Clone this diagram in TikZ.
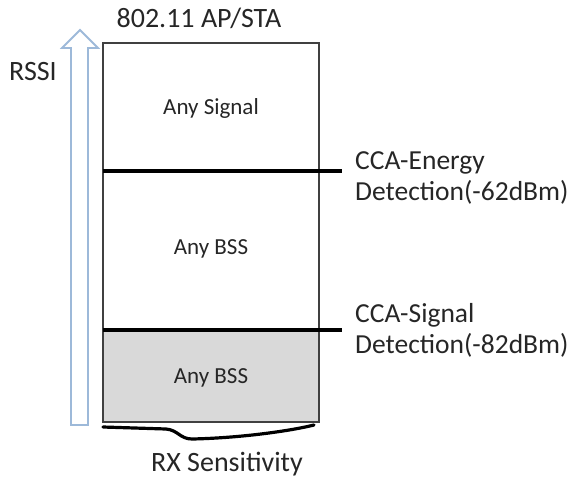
\documentclass[tikz,border=0pt]{standalone}
\usepackage{fontspec}
\setmainfont{Carlito}
\usepackage{tikz}
\usetikzlibrary{calc,positioning}
\definecolor{ink}{HTML}{262626}
\definecolor{frame}{HTML}{404040}
\definecolor{greyfill}{HTML}{D9D9D9}
\definecolor{arrowblue}{HTML}{9DB9D9}
\tikzset{
  base/.style={draw=frame, line width=1.6pt},
  level/.style={draw=black, line width=3.2pt},
  rssi/.style={draw=arrowblue, fill=white, line width=1.8pt, line join=miter},
  lab/.style={text=ink, font=\fontsize{28}{31}\selectfont, inner sep=0pt},
  labin/.style={text=ink, font=\fontsize{23}{27}\selectfont, inner sep=0pt},
  labr/.style={text=ink, font=\fontsize{27.5}{31}\selectfont, inner sep=0pt, align=left, anchor=west},
}

\begin{document}
\begin{tikzpicture}[x=1pt, y=-1pt]
\useasboundingbox (0,0) rectangle (576,480);
% RSSI arrow
\draw[rssi] (71,425) -- (71,48) -- (62,48) -- (80,30) -- (98,48) -- (88,48) -- (88,425) -- cycle;
\node[lab] (rssi) at (33,72) {RSSI};
% station box
\fill[greyfill] (103,330) rectangle (319,422);
\draw[base] (103,43) rectangle (319,422);
\coordinate (ed) at (103,171);
\coordinate (sd) at (103,330);
\coordinate (edend) at (342,171);
\coordinate (sdend) at (342,330);
\draw[level] (ed) -- (edend);
\draw[level] (sd) -- (sdend);
\node[lab] (title) at (199,18) {802.11 AP/STA};
\node[labin] (any) at (211,108) {Any Signal};
\node[labin] (bss1) at (211,249) {Any BSS};
\node[labin] (bss2) at (211,378) {Any BSS};
\node[labr] (edlab) at (355,178) {CCA-Energy\\Detection(-62dBm)};
\node[labr] (sdlab) at (355,330) {CCA-Signal\\Detection(-82dBm)};
% sensitivity floor
\draw[draw=black, line width=3.2pt, line cap=round]
  (103,427) -- (166,429) .. controls (178,430) and (180,439) .. (192,439)
  .. controls (240,438) and (290,431) .. (314,425);
\node[lab] (rx) at (227,464) {RX Sensitivity};
\end{tikzpicture}
\end{document}
